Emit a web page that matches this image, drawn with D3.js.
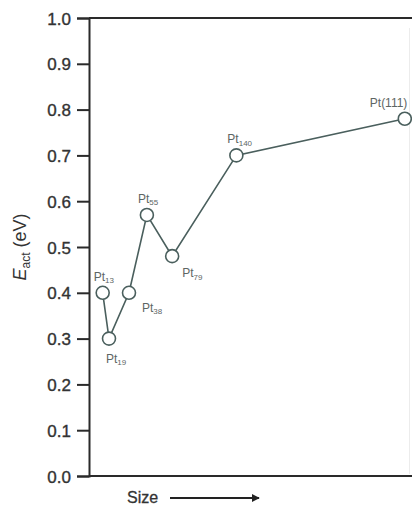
<!DOCTYPE html>
<html>
<head>
<meta charset="utf-8">
<script src="https://cdn.jsdelivr.net/npm/d3@7"></script>
<style>
  html, body { margin: 0; padding: 0; background: #fff; }
  svg { display: block; }
</style>
</head>
<body>
<svg id="chart" width="412" height="507"></svg>
<script>
// Activation energy vs. Pt cluster size
const clusterNames = ["13", "19", "38", "55", "79", "140", "(111)"];
const clusterSizes = [13, 19, 38, 55, 79, 140, 300];   // atoms; the (111) surface sits at the far end
const activationEnergy = [0.40, 0.30, 0.40, 0.57, 0.48, 0.70, 0.78]; // eV
const yTicks = [0.0, 0.1, 0.2, 0.3, 0.4, 0.5, 0.6, 0.7, 0.8, 0.9, 1.0];

// where each point label sits relative to its marker
const labelPlacement = ["above", "below", "right", "above", "belowRight", "above", "aboveLeft"];

const W = 412, H = 507;
const margin = { left: 89, right: 3, top: 18, bottom: 31 };

const svg = d3.select("#chart");
const x = d3.scaleLinear().domain([0, 304]).range([margin.left, W - margin.right]);
const y = d3.scaleLinear().domain([0, 1]).range([H - margin.bottom, margin.top]);

const axisColor = "#2a2a2a";
const seriesColor = "#4a5f5d";
const labelColor = "#5d6664";
const fontFamily = "'Liberation Sans', Arial, Helvetica, sans-serif";

// frame: top and bottom lines run to the right edge, faint right edge
svg.append("line")
  .attr("x1", x(0)).attr("x2", W).attr("y1", y(1)).attr("y2", y(1))
  .attr("stroke", axisColor).attr("stroke-width", 2);
svg.append("line")
  .attr("x1", x(0)).attr("x2", W).attr("y1", y(0)).attr("y2", y(0))
  .attr("stroke", axisColor).attr("stroke-width", 2);
svg.append("line")
  .attr("x1", 409.5).attr("x2", 409.5).attr("y1", y(1) + 10).attr("y2", y(0) - 2)
  .attr("stroke", "#ececec").attr("stroke-width", 1);

// y axis
const yAxis = d3.axisLeft(y)
  .tickValues(yTicks)
  .tickFormat(d3.format(".1f"))
  .tickSize(12)
  .tickPadding(6);
const gy = svg.append("g")
  .attr("transform", `translate(${x(0)},0)`)
  .call(yAxis);
gy.select(".domain").attr("stroke", axisColor).attr("stroke-width", 2);
gy.selectAll(".tick line").attr("stroke", axisColor).attr("stroke-width", 2);
gy.selectAll(".tick text")
  .attr("fill", "#333")
  .attr("stroke", "#333")
  .attr("stroke-width", 0.35)
  .attr("font-family", fontFamily)
  .attr("font-size", 17)
  .attr("dy", "0.36em");

// y axis title: E_act (eV)
const yTitle = svg.append("text")
  .attr("transform", `translate(26,${y(0.5)}) rotate(-90)`)
  .attr("text-anchor", "middle")
  .attr("font-family", fontFamily)
  .attr("font-size", 18)
  .attr("fill", "#333");
yTitle.append("tspan").attr("font-style", "italic").text("E");
yTitle.append("tspan").attr("font-size", 12).attr("dy", 4).text("act");
yTitle.append("tspan").attr("dy", -4).text(" (eV)");

// x axis caption with arrow
svg.append("defs").append("marker")
  .attr("id", "arrowHead")
  .attr("viewBox", "0 0 10 10")
  .attr("refX", 9).attr("refY", 5)
  .attr("markerWidth", 4).attr("markerHeight", 4)
  .attr("orient", "auto")
  .append("path").attr("d", "M0,0 L10,5 L0,10 Z").attr("fill", "#222");

svg.append("text")
  .attr("x", 127).attr("y", 503)
  .attr("font-family", fontFamily)
  .attr("font-size", 16)
  .attr("fill", "#333")
  .attr("stroke", "#333")
  .attr("stroke-width", 0.3)
  .text("Size");
svg.append("line")
  .attr("x1", 170).attr("x2", 259).attr("y1", 498).attr("y2", 498)
  .attr("stroke", "#222").attr("stroke-width", 2)
  .attr("marker-end", "url(#arrowHead)");

// data
const points = clusterSizes.map((s, i) => ({
  size: s, e: activationEnergy[i], name: clusterNames[i], place: labelPlacement[i]
}));

const line = d3.line().x(d => x(d.size)).y(d => y(d.e));
svg.append("path")
  .datum(points)
  .attr("d", line)
  .attr("fill", "none")
  .attr("stroke", seriesColor)
  .attr("stroke-width", 1.6);

svg.selectAll("circle.pt")
  .data(points)
  .join("circle")
  .attr("class", "pt")
  .attr("cx", d => x(d.size))
  .attr("cy", d => y(d.e))
  .attr("r", 6.5)
  .attr("fill", "#fff")
  .attr("stroke", seriesColor)
  .attr("stroke-width", 1.6);

const offsets = {
  above: [-9, -12],
  below: [-3, 24],
  right: [13, 19],
  belowRight: [10, 21],
  aboveLeft: [-35, -12]
};

const labels = svg.selectAll("text.ptlabel")
  .data(points)
  .join("text")
  .attr("class", "ptlabel")
  .attr("x", d => x(d.size) + offsets[d.place][0])
  .attr("y", d => y(d.e) + offsets[d.place][1])
  .attr("font-family", fontFamily)
  .attr("font-size", 12)
  .attr("fill", labelColor);
labels.each(function (d) {
  const t = d3.select(this);
  t.append("tspan").text("Pt");
  if (d.name.startsWith("(")) {
    t.append("tspan").text(d.name);
  } else {
    t.append("tspan").attr("font-size", 8).attr("dy", 2.5).text(d.name);
  }
});
</script>
</body>
</html>
